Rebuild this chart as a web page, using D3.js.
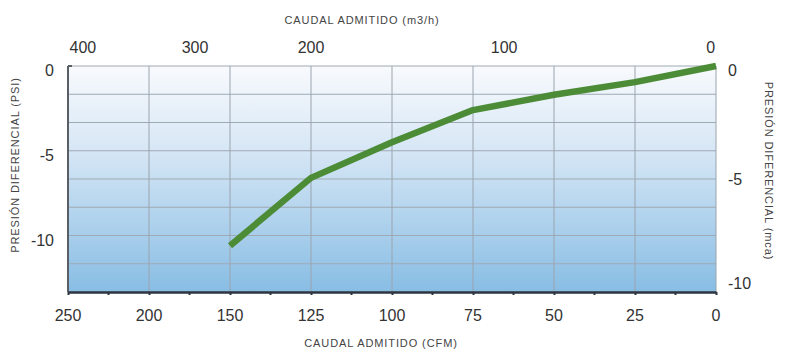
<!DOCTYPE html>
<html>
<head>
<meta charset="utf-8">
<script src="https://cdn.jsdelivr.net/npm/d3@7"></script>
<style>
  body { margin: 0; background: #fff; }
  svg text { font-family: "Liberation Sans", Arial, sans-serif; fill: #333; }
  .tick-label { font-size: 16px; }
  .axis-title { font-size: 11px; letter-spacing: 0.9px; fill: #444; }
</style>
</head>
<body>
<div id="chart"></div>
<script>
// bottom axis (CFM), evenly spaced but not linear
const cfmTicks = [250, 200, 150, 125, 100, 75, 50, 25, 0];
// top axis (m3/h)
const m3hTicks = [400, 300, 200, 100, 0];
const psiTicks = [0, -5, -10];
const mcaTicks = [0, -5, -10];

// curve: flow (CFM) vs differential pressure (PSI)
const flowCFM = [150, 125, 100, 75, 50, 25, 0];
const pressurePSI = [-10.6, -6.6, -4.5, -2.6, -1.7, -0.95, 0];

const width = 790, height = 352;
const margin = {top: 66, right: 74, bottom: 60, left: 68};
const w = width - margin.left - margin.right;
const h = height - margin.top - margin.bottom;

const svg = d3.select('#chart').append('svg')
    .attr('width', width)
    .attr('height', height);

const defs = svg.append('defs');
const grad = defs.append('linearGradient')
    .attr('id', 'bg').attr('x1', 0).attr('y1', 0).attr('x2', 0).attr('y2', 1);
grad.append('stop').attr('offset', '0%').attr('stop-color', '#f8fafd');
grad.append('stop').attr('offset', '35%').attr('stop-color', '#d9e8f6');
grad.append('stop').attr('offset', '100%').attr('stop-color', '#88bde4');

const chart = svg.append('g').attr('transform', `translate(${margin.left},${margin.top})`);

// piecewise scale so every CFM tick sits on an equal step
const xScale = d3.scaleLinear()
    .domain(cfmTicks)
    .range(cfmTicks.map((d, i) => i * w / (cfmTicks.length - 1)));

// top axis label positions, as fractions of the plot width
const topScale = d3.scaleLinear()
    .domain(m3hTicks)
    .range([0.023, 0.196, 0.375, 0.673, 0.992].map(f => f * w));

const yLeft = d3.scaleLinear().domain([0, -40 / 3]).range([0, h]);
const yRight = d3.scaleLinear().domain([0, -10]).range([0, h]);

chart.append('rect')
    .attr('width', w).attr('height', h)
    .attr('fill', 'url(#bg)');

// horizontal grid
const hGrid = d3.range(0, 9).map(i => -i * 5 / 3);
chart.selectAll('.hgrid').data(hGrid).join('line')
    .attr('class', 'hgrid')
    .attr('x1', 0).attr('x2', w)
    .attr('y1', d => yLeft(d)).attr('y2', d => yLeft(d))
    .attr('stroke', '#9fa9b3').attr('stroke-width', 1);

// vertical grid
chart.selectAll('.vgrid').data(cfmTicks).join('line')
    .attr('class', 'vgrid')
    .attr('x1', d => xScale(d)).attr('x2', d => xScale(d))
    .attr('y1', 0).attr('y2', h)
    .attr('stroke', '#9aa4ae').attr('stroke-width', 1);

// left axis line
chart.append('line')
    .attr('x1', 0).attr('x2', 0).attr('y1', 0).attr('y2', h)
    .attr('stroke', '#5a5f66').attr('stroke-width', 2);
chart.append('line')
    .attr('x1', 0).attr('x2', 4).attr('y1', 0).attr('y2', 0)
    .attr('stroke', '#5a5f66').attr('stroke-width', 2);

// bottom axis
const xAxis = d3.axisBottom(xScale)
    .tickValues(cfmTicks)
    .tickSize(3)
    .tickSizeOuter(0)
    .tickFormat('');
const xAxisG = chart.append('g')
    .attr('transform', `translate(0,${h})`)
    .call(xAxis);
xAxisG.select('.domain').attr('stroke', '#2d3540').attr('stroke-width', 2.5);
xAxisG.selectAll('.tick line').attr('stroke', '#2d3540').attr('stroke-width', 2);

// minor ticks halfway between majors
const minor = d3.pairs(cfmTicks).map(([a, b]) => (a + b) / 2);
chart.selectAll('.minor').data(minor).join('line')
    .attr('class', 'minor')
    .attr('x1', d => xScale(d)).attr('x2', d => xScale(d))
    .attr('y1', h).attr('y2', h + 3)
    .attr('stroke', '#2d3540').attr('stroke-width', 2);

chart.selectAll('.xlabel').data(cfmTicks).join('text')
    .attr('class', 'tick-label xlabel')
    .attr('x', d => xScale(d))
    .attr('y', h + 29)
    .attr('text-anchor', 'middle')
    .text(d => d);

// top axis labels
chart.selectAll('.toplabel').data(m3hTicks).join('text')
    .attr('class', 'tick-label toplabel')
    .attr('x', d => topScale(d))
    .attr('y', -13)
    .attr('text-anchor', 'middle')
    .text(d => d);

// left labels
chart.selectAll('.llabel').data(psiTicks).join('text')
    .attr('class', 'tick-label llabel')
    .attr('x', -14)
    .attr('y', d => yLeft(d) + 10)
    .attr('text-anchor', 'end')
    .text(d => d);

// right labels
chart.selectAll('.rlabel').data(mcaTicks).join('text')
    .attr('class', 'tick-label rlabel')
    .attr('x', w + 12)
    .attr('y', d => Math.min(Math.max(yRight(d), 4), h - 9) + 6)
    .attr('text-anchor', 'start')
    .text(d => d);

// curve
const pts = flowCFM.map((d, i) => [d, pressurePSI[i]]);
const line = d3.line()
    .x(d => xScale(d[0]))
    .y(d => yLeft(d[1]));
chart.append('path')
    .datum(pts)
    .attr('d', line)
    .attr('fill', 'none')
    .attr('stroke', '#4c8c37')
    .attr('stroke-width', 6.5)
    .attr('stroke-linejoin', 'round');

// titles
svg.append('text').attr('class', 'axis-title')
    .attr('x', 362).attr('y', 24)
    .attr('text-anchor', 'middle')
    .text('CAUDAL ADMITIDO (m3/h)');
svg.append('text').attr('class', 'axis-title')
    .attr('x', 381).attr('y', 347)
    .attr('text-anchor', 'middle')
    .text('CAUDAL ADMITIDO (CFM)');
svg.append('text').attr('class', 'axis-title')
    .attr('transform', 'translate(19,165) rotate(-90)')
    .attr('text-anchor', 'middle')
    .text('PRESIÓN DIFERENCIAL (PSI)');
svg.append('text').attr('class', 'axis-title')
    .attr('transform', 'translate(765,171) rotate(90)')
    .attr('text-anchor', 'middle')
    .text('PRESIÓN DIFERENCIAL (mca)');
</script>
</body>
</html>
